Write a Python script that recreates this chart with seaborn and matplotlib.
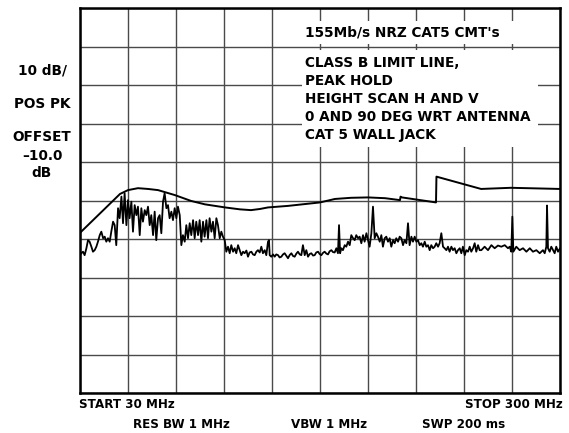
import numpy as np
import pandas as pd
import seaborn as sns
import matplotlib.pyplot as plt
from matplotlib.patches import Rectangle

# limit line (MHz, dB) - class B limit with antenna factor
limit_freq = [30.0, 52.5, 57.0, 62.6, 68.25, 73.9, 83.4, 92.4, 100.3, 111.6, 120.0,
              126.2, 131.25, 135.75, 147.0, 165.0, 173.4, 182.4, 192.0, 201.6, 210.0,
              210.3, 211.1, 230.25, 230.5, 255.6, 272.4, 300.0]
limit_db = [-58.4, -48.3, -47.3, -46.8, -47.0, -47.3, -48.6, -50.1, -51.0, -51.8, -52.3,
            -52.5, -52.2, -51.8, -51.4, -50.5, -49.6, -49.3, -49.2, -49.4, -49.9,
            -49.0, -49.2, -50.5, -43.8, -47.0, -46.7, -47.0]

seg1_freq = [30.0, 30.75, 31.7, 32.6, 33.6, 34.5, 35.4, 36.4, 37.3, 38.25, 39.2, 40.1,
             41.1, 42.0, 43.0, 43.9, 44.8, 45.75, 46.7, 47.6, 48.6, 49.5, 50.4, 51.4,
             52.3, 53.3, 54.2, 55.1, 56.1, 57.0, 57.9, 58.9, 59.8, 60.75, 61.7, 62.6,
             63.6, 64.5, 65.4, 66.4, 67.3, 68.25, 69.2, 70.1, 71.1, 72.0, 72.9, 73.9]
seg1_db = [-64.2, -63.7, -63.3, -64.2, -62.4, -60.3, -60.7, -62.0, -63.3, -62.9, -62.0, -60.7,
           -59.0, -58.1, -59.8, -59.4, -60.7, -59.8, -60.7, -58.1, -55.5, -56.4, -61.6, -52.0,
           -54.6, -49.0, -55.9, -48.1, -56.4, -49.9, -54.6, -50.3, -58.1, -51.2, -53.8, -51.6,
           -59.0, -52.0, -55.5, -52.5, -53.8, -51.6, -56.4, -53.8, -59.0, -52.9, -60.3, -54.6]

seg2_freq = [74.8, 75.75, 76.7, 77.6, 78.6, 79.5, 80.4, 81.4, 82.3, 83.25, 84.2, 85.1,
             86.1, 87.0, 87.9, 88.9, 89.8, 90.75, 91.7, 92.6, 93.6, 94.5, 95.4, 96.4,
             97.3, 98.25, 99.2, 100.1, 101.1, 102.0, 102.9, 103.9, 104.8, 105.75, 106.7, 107.6,
             108.6, 109.5, 110.4, 111.4, 112.3, 113.25, 114.2, 115.1, 116.1, 117.0, 117.9, 118.9]
seg2_db = [-53.8, -58.5, -50.3, -48.1, -52.0, -51.2, -54.6, -52.9, -55.1, -52.0, -54.6, -51.6,
           -53.8, -61.6, -59.0, -60.7, -56.4, -59.8, -55.9, -59.0, -55.1, -59.8, -55.5, -59.0,
           -55.1, -60.7, -55.5, -59.4, -55.1, -59.8, -54.6, -58.1, -55.5, -59.8, -54.6, -56.4,
           -59.8, -58.1, -59.4, -60.3, -63.3, -62.0, -63.7, -61.6, -63.3, -62.4, -63.7, -61.6]

seg3_freq = [120.75, 121.7, 122.6, 123.6, 124.5, 125.4, 126.4, 127.3, 128.25, 129.2, 130.1, 131.1,
             132.0, 132.9, 133.9, 134.8, 135.75, 136.3, 136.7, 137.6, 138.6, 139.5, 140.4, 141.4,
             142.3, 143.25, 144.2, 145.1, 146.1, 147.0, 147.9, 148.9, 149.8, 150.75, 151.7, 152.6,
             153.6, 154.5, 155.4, 156.4, 157.3, 158.25, 159.2, 160.1, 161.1, 162.0, 162.9, 163.9]
seg3_db = [-64.2, -63.3, -63.7, -63.0, -64.6, -63.5, -63.3, -64.0, -64.2, -63.3, -62.9, -63.5,
           -62.0, -63.7, -62.9, -64.2, -60.7, -60.3, -64.2, -64.6, -64.0, -64.6, -64.0, -64.2,
           -64.8, -64.6, -64.0, -63.7, -64.4, -65.0, -64.2, -63.7, -64.4, -64.6, -63.8, -63.3,
           -64.0, -64.2, -61.6, -64.2, -62.9, -64.6, -63.9, -63.7, -64.3, -64.2, -63.5, -63.3]

seg4_freq = [164.8, 165.75, 166.7, 167.6, 168.6, 169.5, 170.4, 171.4, 172.3, 173.25, 174.2, 175.1,
             175.7, 176.3, 177.0, 177.9, 178.9, 179.8, 180.75, 181.7, 182.6, 183.6, 184.5, 185.4,
             186.4, 187.3, 188.25, 189.2, 190.1, 191.1, 192.0, 192.9, 193.9, 194.8, 195.75, 196.7,
             197.6, 198.6, 199.5, 200.4, 201.4, 202.3, 203.25, 204.2, 205.1, 206.1, 207.0, 207.9,
             208.9, 209.8]
seg4_db = [-63.9, -64.2, -63.6, -63.3, -63.8, -64.0, -63.2, -62.9, -63.4, -63.5, -62.4, -63.7,
           -56.4, -63.7, -62.4, -62.9, -61.6, -62.0, -60.7, -61.6, -59.0, -59.8, -60.3, -59.0,
           -59.8, -59.4, -61.1, -59.0, -60.7, -58.5, -60.3, -62.0, -58.5, -51.6, -59.8, -58.5,
           -59.4, -60.7, -59.0, -62.0, -59.8, -59.4, -60.7, -59.8, -62.0, -60.3, -61.1, -59.8,
           -60.7, -59.4]

seg5_freq = [210.75, 211.7, 212.6, 213.6, 214.5, 215.4, 216.4, 217.3, 218.25, 219.2, 220.1, 221.1,
             222.0, 222.9, 223.9, 224.8, 225.75, 226.7, 227.6, 228.6, 229.5, 230.4, 231.4, 232.3,
             233.25, 234.2, 235.1, 236.1, 237.0, 237.9, 238.9, 239.8, 240.75, 241.7, 242.6, 243.6,
             244.5, 245.4, 246.4, 247.3, 248.25, 249.2, 250.1, 251.1, 252.0, 252.9, 253.9, 254.8]
seg5_db = [-59.8, -61.6, -60.3, -61.1, -55.9, -61.6, -59.4, -60.7, -59.4, -60.7, -60.3, -61.6,
           -61.1, -62.0, -60.7, -62.0, -61.6, -62.9, -61.6, -62.4, -62.0, -61.1, -62.0, -61.1,
           -58.5, -62.0, -62.4, -62.9, -62.0, -63.3, -62.0, -62.9, -62.4, -63.7, -62.9, -62.4,
           -63.7, -62.0, -64.2, -62.9, -63.3, -62.0, -63.3, -62.4, -61.1, -63.3, -61.6, -62.9]

seg6_freq = [255.75, 257.6, 259.5, 261.4, 263.25, 265.1, 267.0, 268.9, 270.75, 271.7, 272.6, 273.2,
             273.75, 275.4, 277.3, 279.2, 281.1, 283.0, 284.8, 286.7, 288.6, 290.4, 291.4, 292.3,
             292.7, 293.25, 294.2, 295.1, 296.1, 297.0, 297.9, 298.9, 300.0]
seg6_db = [-62.9, -62.0, -62.9, -61.6, -62.4, -61.7, -62.0, -61.6, -62.4, -62.0, -63.3, -54.2,
           -63.3, -62.0, -62.9, -62.4, -63.3, -62.4, -63.3, -62.9, -63.7, -62.9, -63.7, -62.0,
           -51.3, -62.4, -63.3, -62.0, -62.9, -63.7, -62.0, -63.3, -62.4]

trace_freq = seg1_freq + seg2_freq + seg3_freq + seg4_freq + seg5_freq + seg6_freq
trace_db = seg1_db + seg2_db + seg3_db + seg4_db + seg5_db + seg6_db

left_labels = ["10 dB/", "POS PK", "OFFSET", "\u201310.0", "dB"]
bottom_labels = ["START 30 MHz", "STOP 300 MHz", "RES BW 1 MHz", "VBW 1 MHz", "SWP 200 ms"]
title_text = "155Mb/s NRZ CAT5 CMT's"
note_lines = ["CLASS B LIMIT LINE,", "PEAK HOLD", "HEIGHT SCAN H AND V",
              "0 AND 90 DEG WRT ANTENNA", "CAT 5 WALL JACK"]

limit_df = pd.DataFrame({'freq': limit_freq, 'db': limit_db})
trace_df = pd.DataFrame({'freq': trace_freq, 'db': trace_db})

sns.set_style("white")
plt.rcParams['font.family'] = ['DejaVu Sans']
plt.rcParams['font.weight'] = 'bold'
plt.rcParams['text.color'] = 'black'

W, H = 569, 433
fig = plt.figure(figsize=(W / 100, H / 100), dpi=100)
ax = fig.add_axes([80 / W, 1 - 393 / H, 480 / W, 385 / H])

sns.lineplot(data=trace_df, x='freq', y='db', estimator=None, sort=False,
             color='black', lw=1.3, ax=ax)
sns.lineplot(data=limit_df, x='freq', y='db', estimator=None, sort=False,
             color='black', lw=1.4, ax=ax)

ax.set_xlim(30, 300)
ax.set_ylim(-100, 0)
ax.set_xticks(np.arange(30, 301, 27))
ax.set_yticks(np.arange(-100, 1, 10))
ax.grid(True, color='#4a4a4a', lw=1.0)
ax.set_axisbelow(True)
ax.tick_params(length=0, labelbottom=False, labelleft=False)
ax.set_xlabel('')
ax.set_ylabel('')
for s in ax.spines.values():
    s.set_color('black')
    s.set_linewidth(1.8)

def px(x, y):
    return x / W, 1 - y / H

# white boxes behind the notes
for (x0, y0, x1, y1) in [(300, 21, 515, 44), (302, 50, 538, 147)]:
    fig.patches.append(Rectangle(px(x0, y1), (x1 - x0) / W, (y1 - y0) / H,
                                 transform=fig.transFigure, facecolor='white',
                                 edgecolor='none', zorder=2))

fs = 9.8
fig.text(*px(305, 33), title_text, fontsize=fs, ha='left', va='center', zorder=3)
for i, line in enumerate(note_lines):
    fig.text(*px(305, 63 + 18 * i), line, fontsize=fs, ha='left', va='center', zorder=3)

left_y = [71, 104, 137, 156, 173]
for lab, yy in zip(left_labels, left_y):
    fig.text(*px(42, yy), lab, fontsize=fs, ha='center', va='center')

fig.text(*px(79, 405), bottom_labels[0], fontsize=8.6, ha='left', va='center')
fig.text(*px(563, 405), bottom_labels[1], fontsize=8.6, ha='right', va='center')
fig.text(*px(181, 425), bottom_labels[2], fontsize=8.6, ha='center', va='center')
fig.text(*px(329, 425), bottom_labels[3], fontsize=8.6, ha='center', va='center')
fig.text(*px(464, 425), bottom_labels[4], fontsize=8.6, ha='center', va='center')

plt.savefig('out.png', dpi=100)
